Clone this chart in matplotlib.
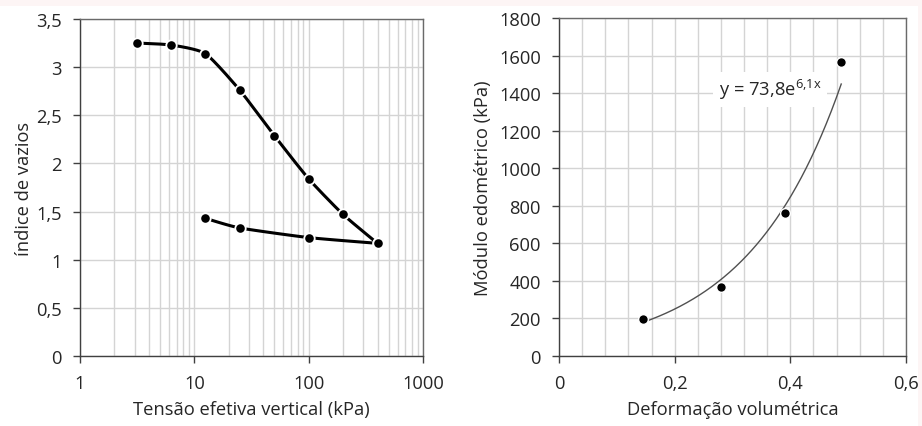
import numpy as np
import matplotlib
matplotlib.use("Agg")
import matplotlib.pyplot as plt
from matplotlib.ticker import FixedLocator, NullFormatter, LogLocator, MultipleLocator
from matplotlib.patches import Rectangle

# ---- data: left chart (oedometer curve) ----
load_stress = [3.125, 6.25, 12.5, 25, 50, 100, 200, 400]
load_void = [3.25, 3.23, 3.14, 2.76, 2.29, 1.84, 1.47, 1.17]
unload_stress = [400, 100, 25, 12.5]
unload_void = [1.17, 1.23, 1.33, 1.43]

# ---- data: right chart (modulus vs strain) ----
vol_strain = [0.145, 0.28, 0.39, 0.488]
modulus = [195, 368, 762, 1565]
fit_a = 73.8
fit_b = 6.1
fit_label = r"y = 73,8e$^{\mathrm{6{,}1x}}$"

left_yticks = [0, 0.5, 1, 1.5, 2, 2.5, 3, 3.5]
left_yticklabels = ["0", "0,5", "1", "1,5", "2", "2,5", "3", "3,5"]
left_xticks = [1, 10, 100, 1000]
left_xticklabels = ["1", "10", "100", "1000"]
right_xticks = [0, 0.2, 0.4, 0.6]
right_xticklabels = ["0", "0,2", "0,4", "0,6"]
right_yticks = list(range(0, 1801, 200))

FS = 13.2
plt.rcParams['font.family'] = ['Open Sans', 'DejaVu Sans']
plt.rcParams['font.size'] = FS
plt.rcParams['mathtext.fontset'] = 'custom'
plt.rcParams['mathtext.rm'] = 'Open Sans'
plt.rcParams['mathtext.it'] = 'Open Sans'

fig = plt.figure(figsize=(9.22, 4.27), dpi=100, facecolor='#fdf5f5')
fig.patches.append(Rectangle((0, 0), 918 / 922, 1 - 7 / 427, transform=fig.transFigure,
                             facecolor='white', edgecolor='none', zorder=-10))

grid_c = '#d4d4d4'
text_c = '#262626'


def smooth_path(xs, ys, n=30, k=0.6):
    # Catmull-Rom style spline with reduced tension (like Excel smoothed lines)
    pts = np.column_stack([xs, ys]).astype(float)
    P = np.vstack([pts[0], pts, pts[-1]])
    out = []
    for i in range(1, len(P) - 2):
        p0, p1, p2, p3 = P[i - 1], P[i], P[i + 1], P[i + 2]
        m1 = k * 0.5 * (p2 - p0)
        m2 = k * 0.5 * (p3 - p1)
        t = np.linspace(0, 1, n)[:, None]
        h00 = 2 * t ** 3 - 3 * t ** 2 + 1
        h10 = t ** 3 - 2 * t ** 2 + t
        h01 = -2 * t ** 3 + 3 * t ** 2
        h11 = t ** 3 - t ** 2
        seg = h00 * p1 + h10 * m1 + h01 * p2 + h11 * m2
        out.append(seg if i == 1 else seg[1:])
    return np.vstack(out)


def style_axes(ax):
    for s in ['left', 'bottom']:
        ax.spines[s].set_color('#404040')
        ax.spines[s].set_linewidth(1.0)
    for s in ['top', 'right']:
        ax.spines[s].set_color('#6a6a6a')
        ax.spines[s].set_linewidth(1.0)
    ax.tick_params(which='major', direction='out', length=5, width=1, color='#404040',
                   labelcolor=text_c, labelsize=FS, pad=8)
    ax.tick_params(which='minor', length=0)
    ax.set_axisbelow(True)


# ---- left axes ----
ax1 = fig.add_axes([80 / 922, 1 - 357 / 427, 343 / 922, 337 / 427])
ax1.set_xscale('log')
ax1.set_xlim(1, 1000)
ax1.set_ylim(0, 3.5)
ax1.xaxis.set_major_locator(FixedLocator(left_xticks))
ax1.set_xticklabels(left_xticklabels)
ax1.xaxis.set_minor_locator(LogLocator(base=10, subs=np.arange(2, 10)))
ax1.xaxis.set_minor_formatter(NullFormatter())
ax1.set_yticks(left_yticks)
ax1.set_yticklabels(left_yticklabels)
ax1.grid(True, which='both', axis='x', color=grid_c, linewidth=1)
ax1.grid(True, which='major', axis='y', color=grid_c, linewidth=1)
style_axes(ax1)

for xs, ys in [(load_stress, load_void), (unload_stress, unload_void)]:
    lx = np.log10(xs)
    path = smooth_path(lx, ys)
    ax1.plot(10 ** path[:, 0], path[:, 1], color='black', linewidth=2.2, solid_capstyle='butt', zorder=3)
    ax1.plot(xs, ys, linestyle='none', marker='o', markersize=7.5, markerfacecolor='black',
             markeredgecolor='white', markeredgewidth=1.3, zorder=4)

ax1.set_xlabel("Tensão efetiva vertical (kPa)", color=text_c, fontsize=FS, labelpad=6)
ax1.set_ylabel("índice de vazios", color=text_c, fontsize=FS, labelpad=2)

# ---- right axes ----
ax2 = fig.add_axes([559 / 922, 1 - 357 / 427, 347 / 922, 338 / 427])
ax2.set_xlim(0, 0.6)
ax2.set_ylim(0, 1800)
ax2.set_xticks(right_xticks)
ax2.set_xticklabels(right_xticklabels)
ax2.xaxis.set_minor_locator(MultipleLocator(0.04))
ax2.set_yticks(right_yticks)
ax2.grid(True, which='both', axis='x', color=grid_c, linewidth=1)
ax2.grid(True, which='major', axis='y', color=grid_c, linewidth=1)
style_axes(ax2)

xf = np.linspace(min(vol_strain), max(vol_strain), 200)
ax2.plot(xf, fit_a * np.exp(fit_b * xf), color='#505050', linewidth=1.0, zorder=3)
ax2.plot(vol_strain, modulus, linestyle='none', marker='o', markersize=7, markerfacecolor='black',
         markeredgecolor='white', markeredgewidth=1.0, zorder=4)
ax2.text(0.365, 1420, fit_label, ha='center', va='center', fontsize=FS, color=text_c, zorder=5,
         bbox=dict(boxstyle='square,pad=0.3', facecolor='white', edgecolor='none'))

ax2.set_xlabel("Deformação volumétrica", color=text_c, fontsize=FS, labelpad=6)
ax2.set_ylabel("Módulo edométrico (kPa)", color=text_c, fontsize=FS, labelpad=5)

fig.savefig("out.png", dpi=100, facecolor=fig.get_facecolor())
